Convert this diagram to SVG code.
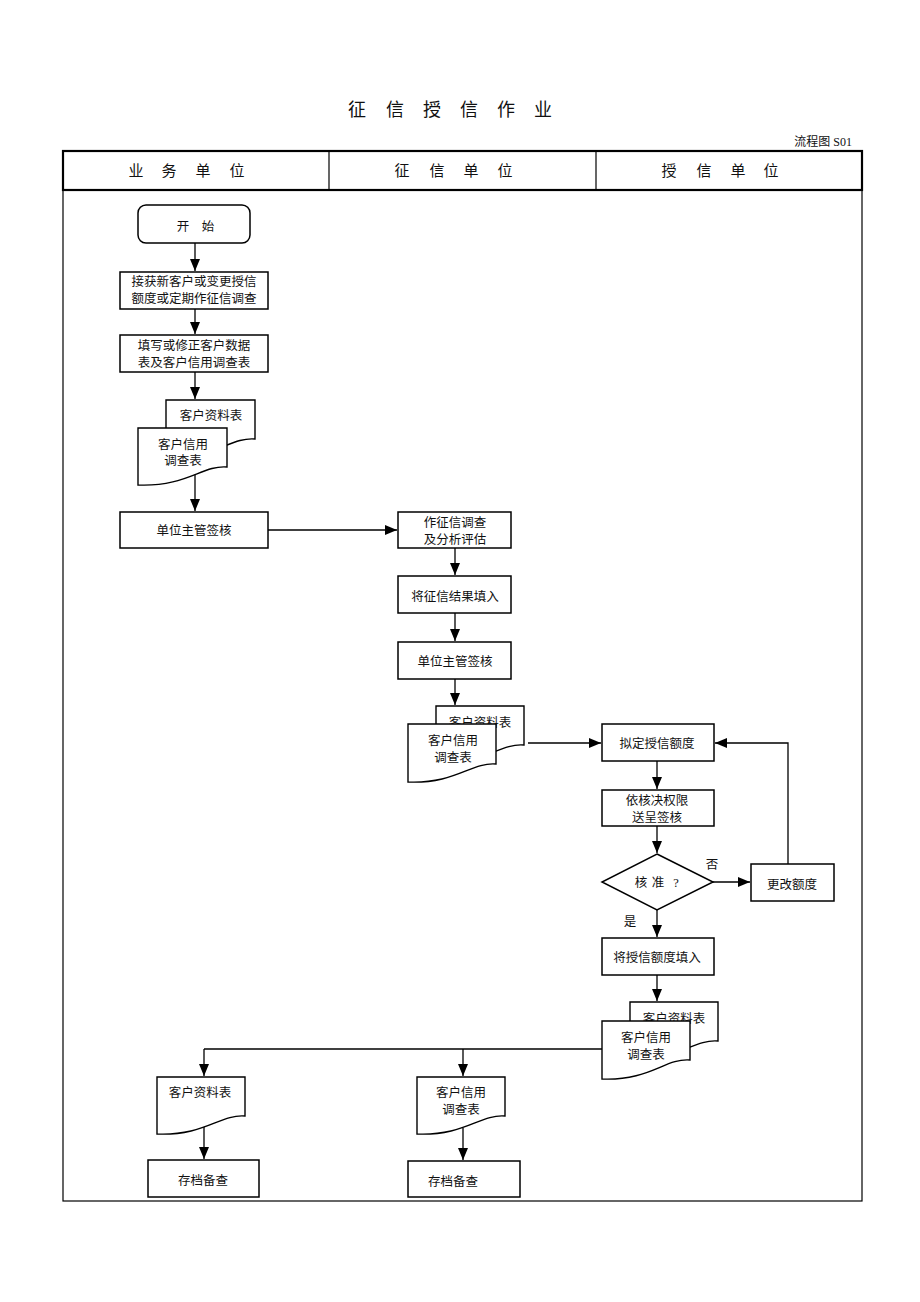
<svg xmlns="http://www.w3.org/2000/svg" width="920" height="1302" viewBox="0 0 920 1302">
<style>
text{font-family:"Liberation Serif","Noto Sans CJK SC",serif;fill:#111;}
.t{font-size:12.5px;text-anchor:middle;}
.h{font-size:15px;text-anchor:middle;}
.ti{font-size:18px;text-anchor:middle;}
.box{fill:#fff;stroke:#000;stroke-width:1.5;}
.doc{fill:#fff;stroke:#000;stroke-width:1.4;}
.ln{fill:none;stroke:#000;stroke-width:1.3;}
.ar{fill:none;stroke:#000;stroke-width:1.3;marker-end:url(#ah);}
</style>
<defs>
<marker id="ah" markerUnits="userSpaceOnUse" markerWidth="12" markerHeight="10" refX="12" refY="5" orient="auto">
<path d="M0,0 L12,5 L0,10 Z" fill="#000"/>
</marker>
</defs>
<rect width="920" height="1302" fill="#fff"/>

<g id="title">
<text class="ti" x="357 395 432 469 506 543" y="116">征信授信作业</text>
<text x="852" y="146" style="font-size:12px;text-anchor:end">流程图 S01</text>
</g>

<g id="frame">
<rect x="63" y="190" width="799" height="1011" fill="none" stroke="#000" stroke-width="1.2"/>
<rect x="63" y="151" width="799" height="39" fill="none" stroke="#000" stroke-width="2.2"/>
<line x1="329" y1="151" x2="329" y2="190" stroke="#000" stroke-width="1.2"/>
<line x1="596" y1="151" x2="596" y2="190" stroke="#000" stroke-width="1.2"/>
<text class="h" x="136 169 203 237" y="176">业务单位</text>
<text class="h" x="402 437 471 505" y="176">征信单位</text>
<text class="h" x="669 704 738 771" y="176">授信单位</text>
</g>

<g id="connectors">
<path class="ar" d="M195,243 V271"/>
<path class="ar" d="M195,309 V334"/>
<path class="ar" d="M195,372 V399"/>
<path class="ar" d="M195,472 V511"/>
<path class="ar" d="M268,530 H397"/>
<path class="ar" d="M455,548 V575"/>
<path class="ar" d="M455,613 V641"/>
<path class="ar" d="M455,679 V705"/>
<path class="ar" d="M528,743 H601"/>
<path class="ar" d="M657,761 V789"/>
<path class="ar" d="M657,826 V853"/>
<path class="ar" d="M713,882 H750"/>
<path class="ar" d="M788,864 V743 H715"/>
<path class="ar" d="M657,910 V937"/>
<path class="ar" d="M657,975 V1001"/>
<path class="ln" d="M602,1049 H204"/>
<path class="ar" d="M204,1049 V1076"/>
<path class="ar" d="M463,1049 V1076"/>
<path class="ar" d="M204,1125 V1159"/>
<path class="ar" d="M463,1128 V1160"/>
<text class="t" x="712" y="869">否</text>
<text class="t" x="630" y="926">是</text>
</g>

<g id="start">
<rect class="box" x="138" y="205" width="112" height="38" rx="8"/>
<text class="t" x="183 208" y="231">开始</text>
</g>

<g id="n1">
<rect class="box" x="120" y="272" width="148" height="37"/>
<text class="t" x="194" y="286">接获新客户或变更授信</text>
<text class="t" x="194" y="303">额度或定期作征信调查</text>
</g>

<g id="n2">
<rect class="box" x="120" y="335" width="148" height="37"/>
<text class="t" x="194" y="350">填写或修正客户数据</text>
<text class="t" x="194" y="367">表及客户信用调查表</text>
</g>

<g id="docs1">
<path class="doc" d="M166,400 H255 V439 C230,437 215,459 166,457 Z"/>
<text class="t" x="211" y="420">客户资料表</text>
<path class="doc" d="M138,428 H227 V467 C202,465 187,487 138,485 Z"/>
<text class="t" x="183" y="449">客户信用</text>
<text class="t" x="183" y="465">调查表</text>
</g>

<g id="n3">
<rect class="box" x="120" y="512" width="148" height="36"/>
<text class="t" x="194" y="535">单位主管签核</text>
</g>

<g id="n4">
<rect class="box" x="398" y="512" width="113" height="36"/>
<text class="t" x="455" y="527">作征信调查</text>
<text class="t" x="455" y="544">及分析评估</text>
</g>

<g id="n5">
<rect class="box" x="398" y="576" width="113" height="37"/>
<text class="t" x="455" y="601">将征信结果填入</text>
</g>

<g id="n6">
<rect class="box" x="398" y="642" width="113" height="37"/>
<text class="t" x="455" y="666">单位主管签核</text>
</g>

<g id="docs2">
<path class="doc" d="M436,706 H524 V745 C499,743 484,765 436,763 Z"/>
<text class="t" x="480" y="727">客户资料表</text>
<path class="doc" d="M408,724 H496 V764 C471,762 456,784 408,782 Z"/>
<text class="t" x="453" y="745">客户信用</text>
<text class="t" x="453" y="762">调查表</text>
</g>

<g id="n7">
<rect class="box" x="602" y="724" width="112" height="37"/>
<text class="t" x="657" y="748">拟定授信额度</text>
</g>

<g id="n8">
<rect class="box" x="602" y="790" width="112" height="36"/>
<text class="t" x="657" y="805">依核决权限</text>
<text class="t" x="657" y="822">送呈签核</text>
</g>

<g id="n9">
<polygon class="box" points="657,854 713,882 657,910 602,882"/>
<text class="t" x="641 658 676" y="887">核准?</text>
</g>

<g id="n10">
<rect class="box" x="751" y="864" width="83" height="37"/>
<text class="t" x="792" y="889">更改额度</text>
</g>

<g id="n11">
<rect class="box" x="602" y="938" width="112" height="37"/>
<text class="t" x="657" y="962">将授信额度填入</text>
</g>

<g id="docs3">
<path class="doc" d="M630,1002 H718 V1041 C693,1039 678,1061 630,1059 Z"/>
<text class="t" x="674" y="1023">客户资料表</text>
<path class="doc" d="M602,1021 H690 V1060 C665,1058 650,1081 602,1079 Z"/>
<text class="t" x="646" y="1042">客户信用</text>
<text class="t" x="646" y="1059">调查表</text>
</g>

<g id="doc4">
<path class="doc" d="M157,1077 H245 V1116 C220,1114 205,1136 157,1134 Z"/>
<text class="t" x="200" y="1097">客户资料表</text>
</g>

<g id="doc5">
<path class="doc" d="M417,1077 H505 V1116 C480,1114 465,1136 417,1134 Z"/>
<text class="t" x="461" y="1097">客户信用</text>
<text class="t" x="461" y="1114">调查表</text>
</g>

<g id="n12">
<rect class="box" x="148" y="1160" width="111" height="37"/>
<text class="t" x="203" y="1185">存档备查</text>
</g>

<g id="n13">
<rect class="box" x="408" y="1161" width="112" height="36"/>
<text class="t" x="453" y="1186">存档备查</text>
</g>
</svg>
